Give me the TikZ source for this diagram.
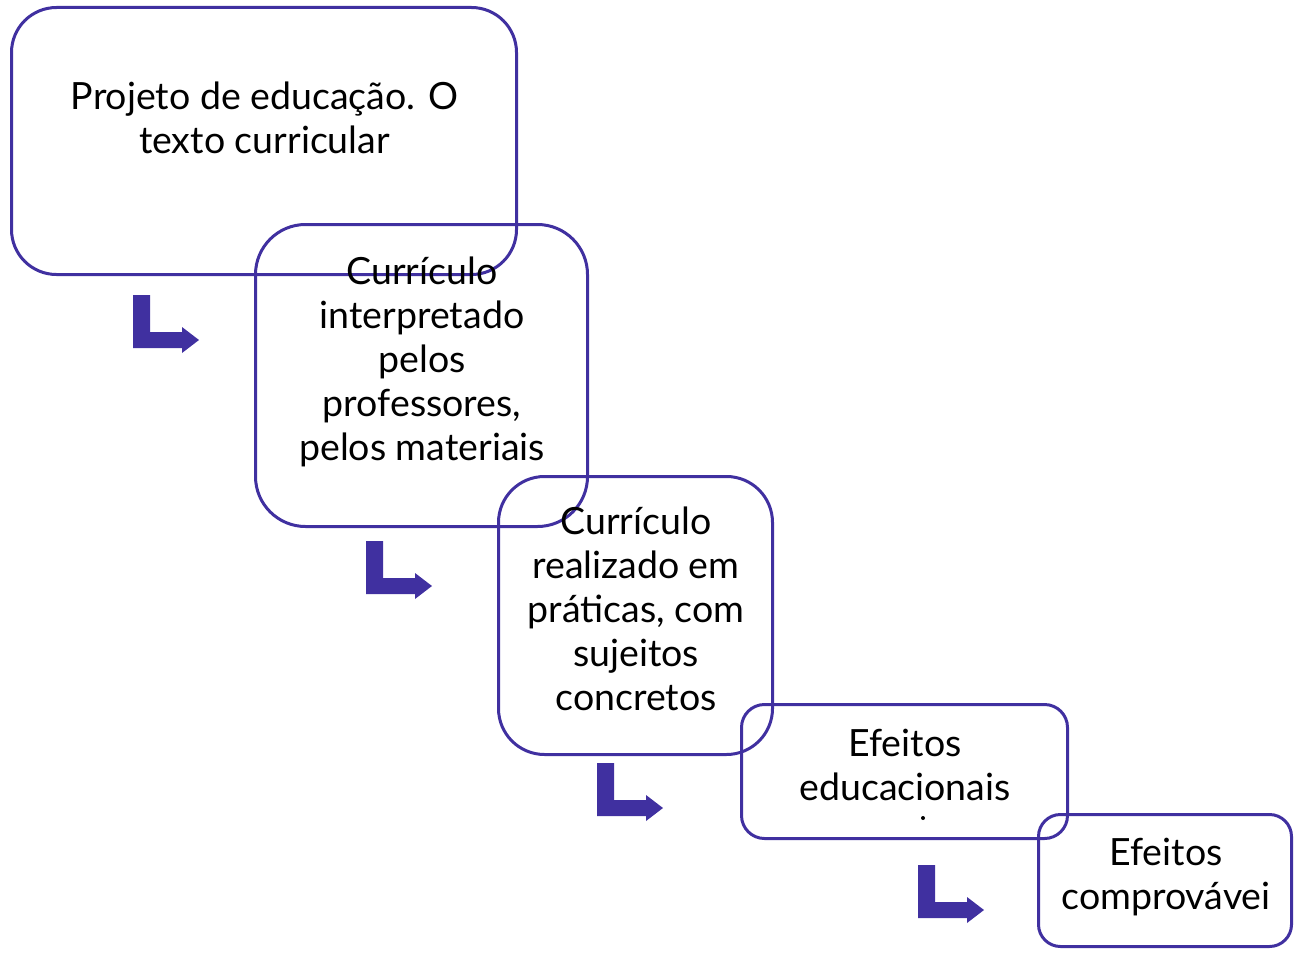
\documentclass[tikz,border=0pt]{standalone}
\usepackage{fontspec}
\setmainfont{Lato}
\definecolor{boxline}{RGB}{64,48,160}
\begin{document}
\begin{tikzpicture}
	[	x=1pt,y=-1pt,
	box/.style={rectangle,draw=boxline,line width=3pt,inner sep=0pt,outer sep=0pt},
	plain/.style={draw=none,fill=none,align=center,font=\fontsize{37.5}{44}\selectfont},
	bend/.pic={\fill[boxline] (0,0) -- (17,0) -- (17,37) -- (49,37) -- (49,32) -- (66,45) -- (49,58) -- (49,53) -- (0,53) -- cycle;}
	]
	\useasboundingbox (0,0) rectangle (1303,958);
	\node[box,minimum width=505,minimum height=267,rounded corners=45] (proj) at (264,141){};
	\node[box,minimum width=332,minimum height=302,rounded corners=50] (interp) at (421.5,375.5){};
	\node[box,minimum width=274,minimum height=278,rounded corners=46] (real) at (635.5,615.5){};
	\node[box,minimum width=326,minimum height=134,rounded corners=23] (efeit) at (904.5,771.5){};
	\node[box,minimum width=253,minimum height=132,rounded corners=22] (compr) at (1165,880.5){};

\node[plain] (projtxt) at (264.5,118){Projeto de educação. O\\texto curricular};
\node[plain] (interptxt) at (422,362){Currículo\\interpretado\\pelos\\professores,\\pelos materiais};
\node[plain] (realtxt) at (636,609){Currículo\\realizado em\\práticas, com\\sujeitos\\concretos};
\node[plain] (efeittxt) at (905,765){Efeitos\\educacionais};
\node[plain] (comprtxt) at (1166,877){Efeitos\\comprovávei};
	% clipped dot of the third line
	\fill (923,818) circle (2);

	\pic at (133,295) {bend};
	\pic at (366,541) {bend};
	\pic at (597,763) {bend};
	\pic at (918,865) {bend};
\end{tikzpicture}
\end{document}
